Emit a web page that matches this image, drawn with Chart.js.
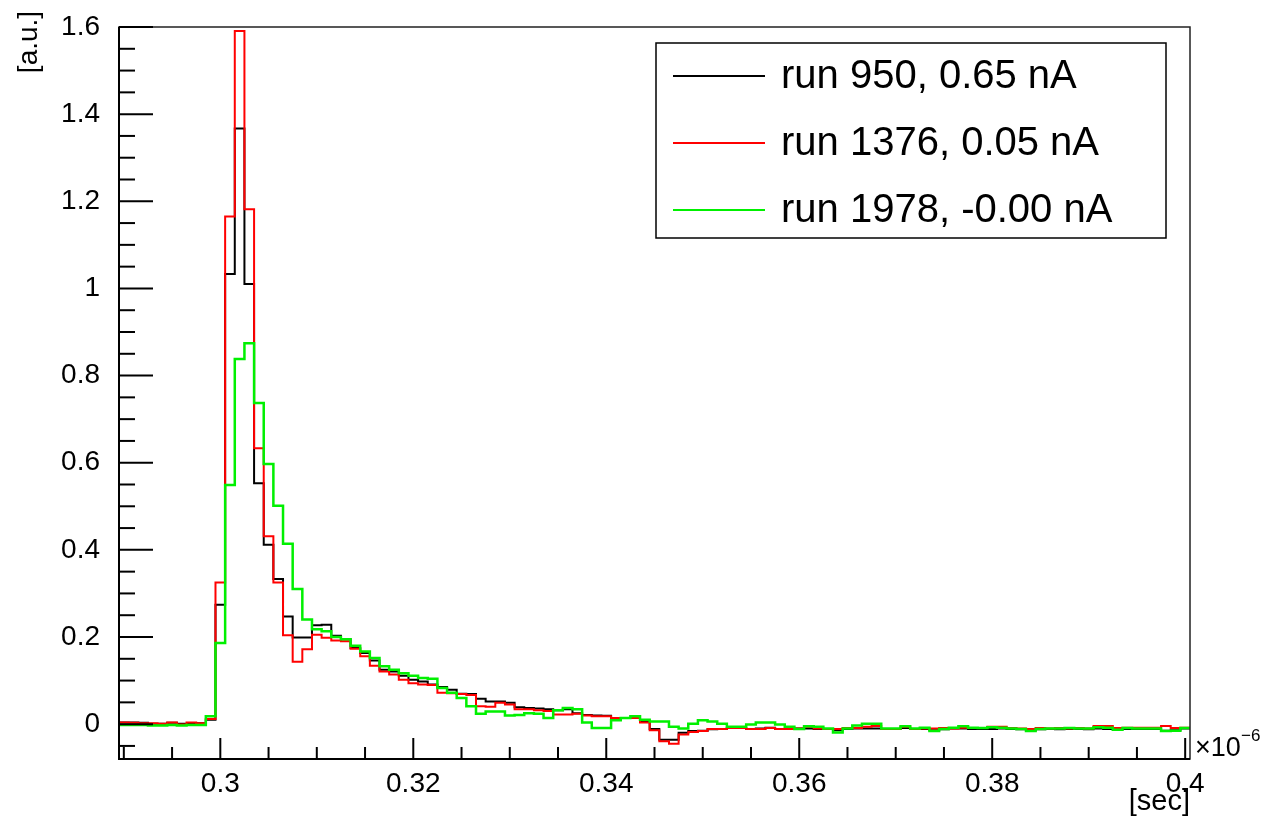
<!DOCTYPE html>
<html>
<head>
<meta charset="utf-8">
<script src="https://cdn.jsdelivr.net/npm/chart.js@4.4.1/dist/chart.umd.min.js"></script>
<style>
  html, body { margin: 0; padding: 0; background: #fff; }
</style>
</head>
<body>
<canvas id="myChart" width="1263" height="824"></canvas>
<script>
// histogram binning (x10^-6 sec): 111 bins of 1 ns, centred on 0.290 ... 0.400
const binLow = 0.2895;
const binWidth = 0.001;

const run950 = [
  0.004, 0.004, 0.003, 0.001, 0.001, 0.003, 0.001, 0.001, 0.002, 0.010,
  0.274, 1.033, 1.367, 1.010, 0.553, 0.412, 0.333, 0.247, 0.199, 0.199,
  0.227, 0.228, 0.203, 0.195, 0.175, 0.163, 0.146, 0.125, 0.121, 0.111,
  0.102, 0.098, 0.091, 0.085, 0.079, 0.070, 0.069, 0.058, 0.052, 0.052,
  0.049, 0.039, 0.037, 0.036, 0.034, 0.032, 0.034, 0.025, 0.021, 0.020,
  0.019, 0.014, 0.014, 0.014, 0.006, -0.011, -0.036, -0.036, -0.020, -0.016,
  -0.015, -0.012, -0.011, -0.009, -0.008, -0.011, -0.010, -0.008, -0.011, -0.011,
  -0.010, -0.010, -0.011, -0.011, -0.014, -0.011, -0.010, -0.010, -0.010, -0.011,
  -0.011, -0.009, -0.011, -0.011, -0.014, -0.012, -0.010, -0.010, -0.011, -0.011,
  -0.011, -0.010, -0.011, -0.012, -0.014, -0.012, -0.011, -0.012, -0.011, -0.011,
  -0.012, -0.010, -0.011, -0.012, -0.011, -0.011, -0.011, -0.011, -0.015, -0.014,
  -0.010
];

const run1376 = [
  0.004, 0.003, 0.002, 0.002, 0.001, 0.004, -0.001, 0.004, 0.002, 0.012,
  0.325, 1.165, 1.591, 1.182, 0.633, 0.431, 0.325, 0.204, 0.143, 0.172,
  0.205, 0.198, 0.192, 0.190, 0.173, 0.156, 0.134, 0.121, 0.114, 0.102,
  0.094, 0.091, 0.090, 0.072, 0.071, 0.069, 0.067, 0.041, 0.040, 0.049,
  0.045, 0.034, 0.034, 0.032, 0.030, 0.022, 0.022, 0.024, 0.020, 0.018,
  0.018, 0.014, 0.014, 0.014, 0.004, -0.014, -0.039, -0.045, -0.024, -0.018,
  -0.016, -0.011, -0.011, -0.009, -0.009, -0.011, -0.011, -0.009, -0.011, -0.011,
  -0.010, -0.006, -0.010, -0.011, -0.011, -0.009, -0.009, -0.006, -0.004, -0.011,
  -0.011, -0.006, -0.011, -0.010, -0.010, -0.009, -0.010, -0.008, -0.009, -0.009,
  -0.006, -0.006, -0.009, -0.010, -0.011, -0.009, -0.010, -0.009, -0.010, -0.009,
  -0.010, -0.004, -0.004, -0.009, -0.008, -0.008, -0.008, -0.008, -0.004, -0.009,
  -0.008
];

const run1978 = [
  -0.002, -0.002, -0.002, -0.003, -0.003, -0.002, -0.003, -0.002, -0.002, 0.018,
  0.186, 0.549, 0.838, 0.874, 0.737, 0.597, 0.501, 0.414, 0.310, 0.240,
  0.218, 0.213, 0.200, 0.195, 0.180, 0.167, 0.152, 0.133, 0.125, 0.117,
  0.111, 0.106, 0.104, 0.083, 0.072, 0.060, 0.041, 0.024, 0.029, 0.029,
  0.020, 0.021, 0.025, 0.024, 0.014, 0.032, 0.037, 0.034, 0.004, -0.009,
  -0.009, 0.009, 0.014, 0.018, 0.010, 0.006, 0.006, -0.006, -0.010, 0.001,
  0.009, 0.006, 0.001, -0.006, -0.006, -0.001, 0.004, 0.004, -0.001, -0.006,
  -0.011, -0.005, -0.006, -0.010, -0.019, -0.010, -0.003, 0.001, 0.001, -0.010,
  -0.010, -0.005, -0.010, -0.008, -0.016, -0.011, -0.008, -0.005, -0.008, -0.009,
  -0.007, -0.008, -0.010, -0.011, -0.016, -0.011, -0.010, -0.010, -0.009, -0.010,
  -0.010, -0.007, -0.008, -0.013, -0.009, -0.010, -0.010, -0.010, -0.016, -0.015,
  -0.009
];

const seriesLabels = ['run 950, 0.65 nA', 'run 1376, 0.05 nA', 'run 1978, -0.00 nA'];
const seriesColors = ['#000000', '#ff0000', '#00f000'];

const xTickValues = [0.30, 0.32, 0.34, 0.36, 0.38, 0.40];
const xTickLabels = ['0.3', '0.32', '0.34', '0.36', '0.38', '0.4'];
const yTickValues = [0, 0.2, 0.4, 0.6, 0.8, 1.0, 1.2, 1.4, 1.6];
const yTickLabels = ['0', '0.2', '0.4', '0.6', '0.8', '1', '1.2', '1.4', '1.6'];

const xMin = 0.2895, xMax = 0.4005;
const yMin = -0.08, yMax = 1.6;
const FONT = '"Liberation Sans", Arial, Helvetica, sans-serif';

// histogram outline: one point per left bin edge plus the closing right edge
function toSteps(values) {
  const pts = values.map((v, i) => ({ x: binLow + i * binWidth, y: v }));
  pts.push({ x: binLow + values.length * binWidth, y: values[values.length - 1] });
  return pts;
}

// ROOT style frame, inward ticks, legend and axis titles
const rootStyle = {
  id: 'rootStyle',
  afterDatasetsDraw(chart) {
    const { ctx, chartArea: a, scales } = chart;
    const xs = scales.x, ys = scales.y;
    ctx.save();
    ctx.strokeStyle = '#222';
    ctx.lineWidth = 1.5;
    ctx.strokeRect(a.left, a.top, a.right - a.left, a.bottom - a.top);

    ctx.strokeStyle = '#000';
    ctx.lineWidth = 2;
    ctx.beginPath();
    ctx.moveTo(a.left, a.top); ctx.lineTo(a.left, a.bottom); ctx.lineTo(a.right, a.bottom);
    ctx.stroke();

    // y ticks every 0.05, major every 0.2
    for (let k = -1; k <= 32; k++) {
      const v = k * 0.05;
      const py = ys.getPixelForValue(v);
      if (py < a.top - 0.5 || py > a.bottom) continue;
      const len = (k % 4 === 0) ? 34 : 16;
      ctx.beginPath(); ctx.moveTo(a.left, py); ctx.lineTo(a.left + len, py); ctx.stroke();
    }
    // x ticks every 0.005, major every 0.02
    for (let k = 58; k <= 80; k++) {
      const v = k * 0.005;
      const px = xs.getPixelForValue(v);
      const len = ((k - 60) % 4 === 0) ? 21 : 12;
      ctx.beginPath(); ctx.moveTo(px, a.bottom); ctx.lineTo(px, a.bottom - len); ctx.stroke();
    }
    ctx.restore();
  },
  afterDraw(chart) {
    const { ctx, chartArea: a } = chart;
    ctx.save();
    // legend
    const lx = 656, ly = 43, lw = 510, lh = 195;
    ctx.fillStyle = '#fff';
    ctx.fillRect(lx, ly, lw, lh);
    ctx.strokeStyle = '#000';
    ctx.lineWidth = 1.5;
    ctx.strokeRect(lx, ly, lw, lh);
    ctx.font = '40px ' + FONT;
    ctx.textBaseline = 'middle';
    ctx.textAlign = 'left';
    seriesLabels.forEach((lab, i) => {
      const yy = 76 + i * 67;
      ctx.strokeStyle = seriesColors[i];
      ctx.lineWidth = 2;
      ctx.beginPath(); ctx.moveTo(673, yy); ctx.lineTo(765, yy); ctx.stroke();
      ctx.fillStyle = '#000';
      ctx.fillText(lab, 781, yy + 1);
    });

    // axis titles
    ctx.fillStyle = '#000';
    ctx.font = '28px ' + FONT;
    ctx.save();
    ctx.translate(29, 42);
    ctx.rotate(-Math.PI / 2);
    ctx.textAlign = 'center';
    ctx.textBaseline = 'middle';
    ctx.fillText('[a.u.]', 0, 0);
    ctx.restore();

    ctx.font = '29px ' + FONT;
    ctx.textAlign = 'right';
    ctx.textBaseline = 'alphabetic';
    ctx.fillText('[sec]', a.right, 810);

    ctx.textAlign = 'left';
    ctx.font = '27px ' + FONT;
    ctx.fillText('\u00d710', a.right + 5, 756);
    ctx.font = '17px ' + FONT;
    ctx.fillText('\u22126', a.right + 51, 741);
    ctx.restore();
  }
};

const ctx = document.getElementById('myChart');

new Chart(ctx, {
  type: 'line',
  data: {
    datasets: [run950, run1376, run1978].map((vals, i) => ({
      label: seriesLabels[i],
      data: toSteps(vals),
      borderColor: seriesColors[i],
      borderWidth: i === 2 ? 2.5 : 2,
      stepped: true,
      pointRadius: 0,
      fill: false,
      order: 2 - i
    }))
  },
  options: {
    responsive: false,
    animation: false,
    devicePixelRatio: 1,
    layout: { padding: { top: 27, right: 73, left: 0, bottom: 0 } },
    plugins: {
      legend: { display: false },
      tooltip: { enabled: false }
    },
    scales: {
      x: {
        type: 'linear',
        min: xMin,
        max: xMax,
        grid: { display: false, drawTicks: false },
        border: { display: false },
        afterBuildTicks: s => { s.ticks = xTickValues.map(v => ({ value: v })); },
        afterFit: s => { s.height = 65; s.paddingLeft = 0; s.paddingRight = 0; },
        ticks: {
          padding: 8,
          autoSkip: false,
          maxRotation: 0,
          color: '#000',
          font: { family: FONT, size: 28 },
          callback: (v, i) => xTickLabels[i]
        }
      },
      y: {
        min: yMin,
        max: yMax,
        grid: { display: false, drawTicks: false },
        border: { display: false },
        afterBuildTicks: s => { s.ticks = yTickValues.map(v => ({ value: v })); },
        afterFit: s => { s.width = 119; s.paddingTop = 0; s.paddingBottom = 0; },
        ticks: {
          padding: 19,
          autoSkip: false,
          color: '#000',
          font: { family: FONT, size: 28 },
          callback: (v, i) => yTickLabels[i]
        }
      }
    }
  },
  plugins: [rootStyle]
});
</script>
</body>
</html>
